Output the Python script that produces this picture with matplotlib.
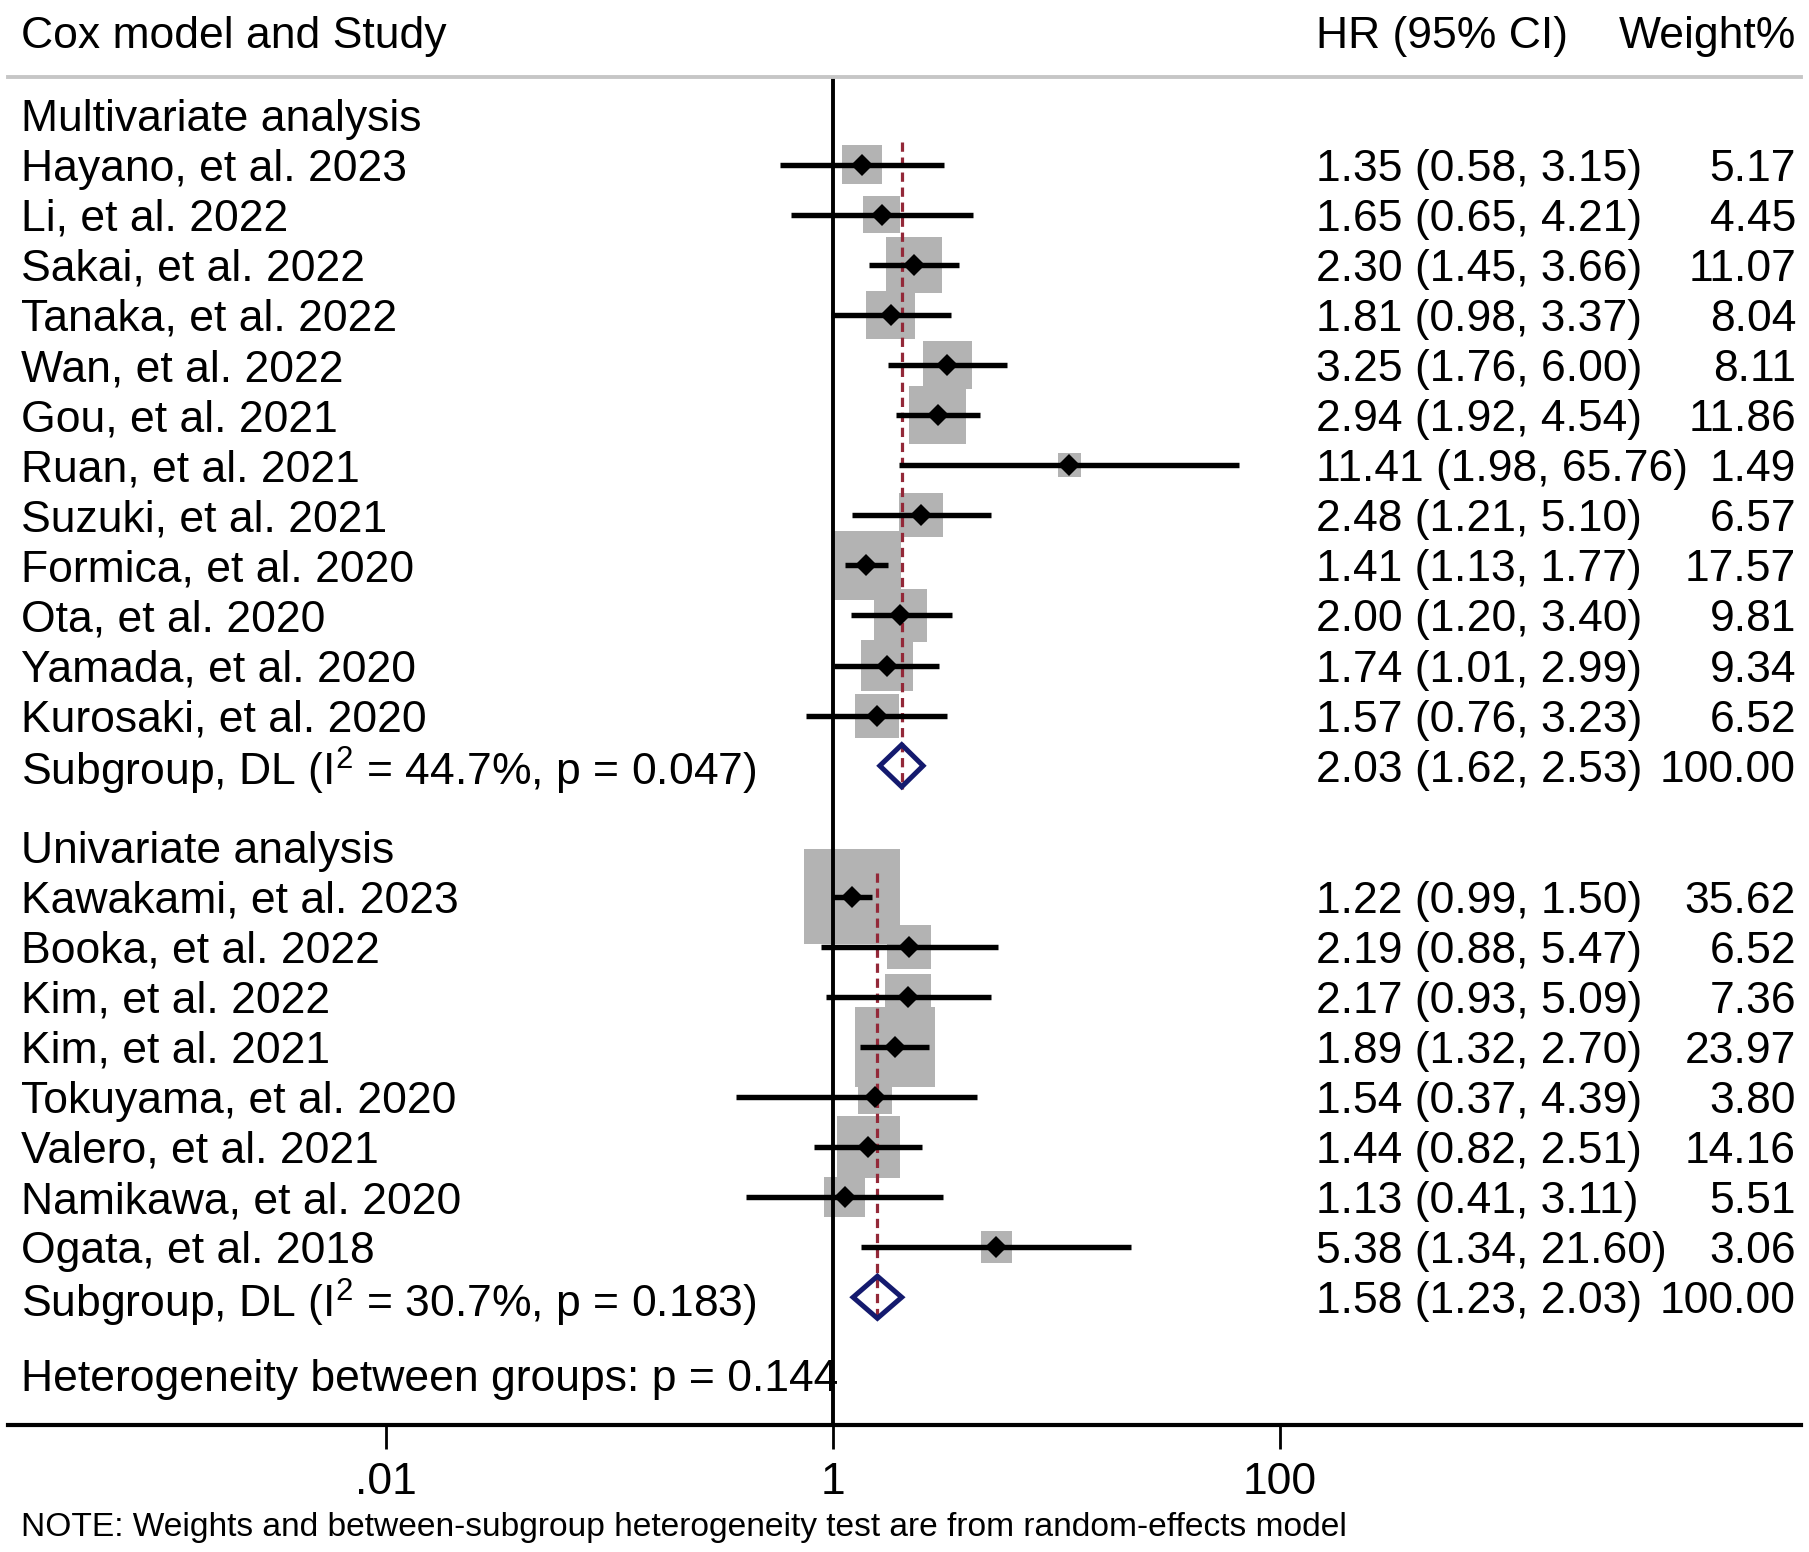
import numpy as np
import matplotlib
matplotlib.use("Agg")
import matplotlib.pyplot as plt
from matplotlib import transforms

plt.rcParams['font.family'] = ['Liberation Sans', 'DejaVu Sans']
plt.rcParams['mathtext.fontset'] = 'custom'
plt.rcParams['mathtext.rm'] = 'Liberation Sans'
plt.rcParams['mathtext.it'] = 'Liberation Sans'

# ---------------- data ----------------
multi_studies = ["Hayano, et al. 2023", "Li, et al. 2022", "Sakai, et al. 2022",
                 "Tanaka, et al. 2022", "Wan, et al. 2022", "Gou, et al. 2021",
                 "Ruan, et al. 2021", "Suzuki, et al. 2021", "Formica, et al. 2020",
                 "Ota, et al. 2020", "Yamada, et al. 2020", "Kurosaki, et al. 2020"]
multi_hr = [1.35, 1.65, 2.30, 1.81, 3.25, 2.94, 11.41, 2.48, 1.41, 2.00, 1.74, 1.57]
multi_lo = [0.58, 0.65, 1.45, 0.98, 1.76, 1.92, 1.98, 1.21, 1.13, 1.20, 1.01, 0.76]
multi_hi = [3.15, 4.21, 3.66, 3.37, 6.00, 4.54, 65.76, 5.10, 1.77, 3.40, 2.99, 3.23]
multi_w = [5.17, 4.45, 11.07, 8.04, 8.11, 11.86, 1.49, 6.57, 17.57, 9.81, 9.34, 6.52]
multi_pooled = [2.03, 1.62, 2.53]
multi_i2, multi_p = 44.7, 0.047

uni_studies = ["Kawakami, et al. 2023", "Booka, et al. 2022", "Kim, et al. 2022",
               "Kim, et al. 2021", "Tokuyama, et al. 2020", "Valero, et al. 2021",
               "Namikawa, et al. 2020", "Ogata, et al. 2018"]
uni_hr = [1.22, 2.19, 2.17, 1.89, 1.54, 1.44, 1.13, 5.38]
uni_lo = [0.99, 0.88, 0.93, 1.32, 0.37, 0.82, 0.41, 1.34]
uni_hi = [1.50, 5.47, 5.09, 2.70, 4.39, 2.51, 3.11, 21.60]
uni_w = [35.62, 6.52, 7.36, 23.97, 3.80, 14.16, 5.51, 3.06]
uni_pooled = [1.58, 1.23, 2.03]
uni_i2, uni_p = 30.7, 0.183

between_p = 0.144
group_names = ["Multivariate analysis", "Univariate analysis"]
tick_values = [0.01, 1, 100]
tick_labels = [".01", "1", "100"]
note_text = "NOTE: Weights and between-subgroup heterogeneity test are from random-effects model"

# ---------------- figure ----------------
W, H = 1809, 1552
fig = plt.figure(figsize=(W / 100, H / 100), dpi=100)
ax_left, ax_right = 8, 1801
ax_top, ax_bot = 77, 1425
ax = fig.add_axes([ax_left / W, (H - ax_bot) / H, (ax_right - ax_left) / W, (ax_bot - ax_top) / H])
ax.set_xscale('log')
px_per_dec = 223.5
x_null = 833
ax.set_xlim(10 ** ((ax_left - x_null) / px_per_dec), 10 ** ((ax_right - x_null) / px_per_dec))
ax.set_ylim(26.91, 0)

for s in ['left', 'right']:
    ax.spines[s].set_visible(False)
ax.spines['top'].set_color('#c6c6c6')
ax.spines['top'].set_linewidth(2.8)
ax.spines['bottom'].set_color('black')
ax.spines['bottom'].set_linewidth(3.0)
ax.set_yticks([])
ax.set_xticks(tick_values)
ax.set_xticklabels(tick_labels)
ax.xaxis.set_minor_locator(matplotlib.ticker.NullLocator())
ax.tick_params(axis='x', length=17, width=2.0, pad=10, labelsize=32)

trans = transforms.blended_transform_factory(fig.transFigure, ax.transData)
FS = 32
x_lab = 21 / W
x_hr = 1316 / W
x_wt = 1796 / W

def txt(x, y, s, ha='left', size=FS):
    ax.text(x, y, s, transform=trans, ha=ha, va='center_baseline', fontsize=size,
            clip_on=False, color='black')

# header
txt(x_lab, -0.9, "Cox model and Study")
txt(x_hr, -0.9, "HR (95% CI)")
txt(x_wt, -0.9, "Weight%", ha='right')

box_color = '#b3b3b3'
dash_color = '#932838'
dia_color = '#141a6e'

def draw_group(y0, name, studies, hr, lo, hi, w, pooled, i2, p):
    txt(x_lab, y0, name)
    ys = y0 + 0.99 + np.arange(len(studies))
    sides_pt = (5.0 + 15.24 * np.sqrt(np.array(w))) * 0.72
    ax.scatter(hr, ys, s=sides_pt ** 2, marker='s', color=box_color, linewidths=0, zorder=1)
    ax.hlines(ys, lo, hi, color='black', lw=3.9, zorder=4)
    ax.plot(hr, ys, 'D', color='black', ms=11.5, mew=0, zorder=5)
    for yy, st, h, l, u, ww in zip(ys, studies, hr, lo, hi, w):
        txt(x_lab, yy, st)
        txt(x_hr, yy, f"{h:.2f} ({l:.2f}, {u:.2f})")
        txt(x_wt, yy, f"{ww:.2f}", ha='right')
    ysub = ys[-1] + 1
    ph, pl, pu = pooled
    dh = 0.42
    ax.plot([ph, ph], [ys[0] - 0.46, ysub + 0.46], color=dash_color, lw=2.3,
            dashes=(2.9, 1.8), zorder=3)
    ax.fill([pl, ph, pu, ph, pl], [ysub, ysub - dh, ysub, ysub + dh, ysub],
            facecolor='none', edgecolor=dia_color, lw=3.6, zorder=6, joinstyle='miter')
    txt(x_lab, ysub, "Subgroup, DL (I$^{\\mathrm{2}}$ = " + f"{i2:.1f}%, p = {p:.3f})")
    txt(x_hr, ysub, f"{ph:.2f} ({pl:.2f}, {pu:.2f})")
    txt(x_wt, ysub, "100.00", ha='right')
    return ysub

y_end1 = draw_group(0.76, group_names[0], multi_studies, multi_hr, multi_lo, multi_hi,
                    multi_w, multi_pooled, multi_i2, multi_p)
y_end2 = draw_group(y_end1 + 1.62, group_names[1], uni_studies, uni_hr, uni_lo, uni_hi,
                    uni_w, uni_pooled, uni_i2, uni_p)
txt(x_lab, y_end2 + 1.56, f"Heterogeneity between groups: p = {between_p:.3f}")

ax.axvline(1, color='black', lw=2.8, zorder=2)

fig.text(x_lab, 1 - 1524 / H, note_text, ha='left', va='center_baseline', fontsize=24.1)

fig.savefig("out.png", dpi=100, facecolor='white')
